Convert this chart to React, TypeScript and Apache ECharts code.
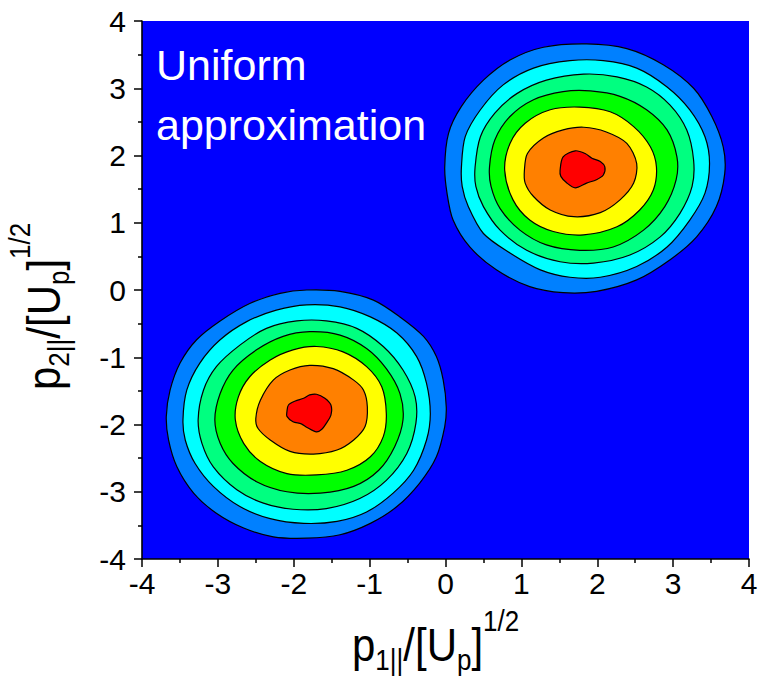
import React, { useEffect, useRef } from 'react';
import * as echarts from 'echarts';

// Contour level colours, outer (lowest) to inner (highest)
const levelColors = ['#0080FF', '#00FFFF', '#00FF80', '#00FF00', '#FFFF00', '#FF8000', '#FF0000'];
const backgroundLevelColor = '#0000FF';

// Axis ranges
const xRange = [-4, 4];
const yRange = [-4, 4];
const tickStep = 1;

// Contour boundaries, in data units [p1, p2]
const upperPeakRings: number[][][] = [
  [[-0.01, 1.83], [0.04, 2.33], [0.21, 2.73], [0.5, 3.12], [0.85, 3.42], [1.29, 3.61], [1.86, 3.66], [2.39, 3.59], [2.87, 3.35], [3.27, 3.0], [3.51, 2.58], [3.66, 2.13], [3.68, 1.73], [3.57, 1.24], [3.31, 0.79], [2.96, 0.45], [2.52, 0.15], [1.99, -0.02], [1.55, -0.04], [1.11, 0.05], [0.67, 0.3], [0.32, 0.64], [0.1, 1.04], [0.02, 1.44]],
  [[0.21, 1.83], [0.26, 2.28], [0.46, 2.68], [0.76, 3.05], [1.16, 3.3], [1.64, 3.41], [2.08, 3.41], [2.52, 3.3], [2.92, 3.02], [3.22, 2.68], [3.42, 2.28], [3.48, 1.88], [3.42, 1.44], [3.22, 1.04], [2.92, 0.64], [2.52, 0.35], [2.04, 0.19], [1.64, 0.19], [1.25, 0.3], [0.85, 0.55], [0.5, 0.84], [0.3, 1.24], [0.22, 1.54]],
  [[0.39, 1.83], [0.46, 2.28], [0.65, 2.63], [0.94, 2.92], [1.33, 3.12], [1.82, 3.21], [2.26, 3.17], [2.65, 3.02], [2.96, 2.75], [3.18, 2.38], [3.27, 1.93], [3.25, 1.54], [3.09, 1.14], [2.83, 0.79], [2.43, 0.52], [1.95, 0.4], [1.51, 0.42], [1.07, 0.59], [0.72, 0.89], [0.5, 1.24], [0.4, 1.54]],
  [[0.58, 1.83], [0.65, 2.23], [0.85, 2.58], [1.16, 2.83], [1.55, 2.95], [1.91, 2.96], [2.3, 2.88], [2.65, 2.68], [2.92, 2.38], [3.05, 1.98], [3.04, 1.64], [2.89, 1.24], [2.61, 0.89], [2.21, 0.64], [1.77, 0.59], [1.33, 0.67], [0.98, 0.89], [0.72, 1.21], [0.6, 1.54]],
  [[0.78, 1.78], [0.85, 2.18], [1.05, 2.48], [1.38, 2.68], [1.77, 2.72], [2.17, 2.65], [2.48, 2.43], [2.7, 2.13], [2.78, 1.83], [2.74, 1.49], [2.56, 1.19], [2.26, 0.94], [1.82, 0.82], [1.42, 0.87], [1.11, 1.04], [0.89, 1.34]],
  [[1.04, 1.78], [1.08, 2.03], [1.29, 2.26], [1.55, 2.38], [1.82, 2.42], [2.12, 2.35], [2.39, 2.18], [2.52, 1.88], [2.48, 1.59], [2.3, 1.34], [2.04, 1.15], [1.69, 1.09], [1.38, 1.19], [1.16, 1.39], [1.05, 1.59]],
  [[1.51, 1.78], [1.55, 1.98], [1.71, 2.07], [1.84, 2.03], [1.93, 1.96], [2.04, 1.91], [2.1, 1.83], [2.08, 1.71], [1.99, 1.64], [1.86, 1.59], [1.71, 1.52], [1.6, 1.59], [1.52, 1.69]],
];

const lowerPeakRings: number[][][] = [
  [[-3.68, -1.88], [-3.63, -1.49], [-3.5, -1.09], [-3.28, -0.74], [-2.97, -0.46], [-2.58, -0.2], [-2.18, -0.05], [-1.83, 0.0], [-1.39, -0.02], [-0.95, -0.15], [-0.6, -0.4], [-0.29, -0.69], [-0.12, -0.99], [-0.03, -1.34], [0.01, -1.74], [-0.01, -2.03], [-0.12, -2.48], [-0.34, -2.87], [-0.64, -3.22], [-0.99, -3.47], [-1.39, -3.64], [-1.83, -3.69], [-2.27, -3.67], [-2.66, -3.54], [-3.02, -3.32], [-3.32, -3.02], [-3.54, -2.63], [-3.65, -2.23]],
  [[-3.46, -1.93], [-3.41, -1.49], [-3.24, -1.09], [-2.97, -0.74], [-2.62, -0.47], [-2.23, -0.3], [-1.83, -0.22], [-1.39, -0.25], [-0.99, -0.4], [-0.64, -0.64], [-0.38, -0.99], [-0.25, -1.39], [-0.2, -1.84], [-0.25, -2.23], [-0.42, -2.68], [-0.69, -3.02], [-1.04, -3.3], [-1.43, -3.44], [-1.87, -3.47], [-2.31, -3.4], [-2.71, -3.22], [-3.06, -2.92], [-3.3, -2.58], [-3.43, -2.23]],
  [[-3.26, -1.93], [-3.19, -1.49], [-3.02, -1.14], [-2.71, -0.82], [-2.36, -0.57], [-1.96, -0.46], [-1.57, -0.46], [-1.17, -0.57], [-0.82, -0.84], [-0.56, -1.19], [-0.4, -1.59], [-0.39, -1.98], [-0.51, -2.43], [-0.78, -2.83], [-1.13, -3.1], [-1.57, -3.25], [-2.01, -3.26], [-2.4, -3.17], [-2.75, -2.97], [-3.06, -2.63], [-3.21, -2.28]],
  [[-3.04, -1.93], [-2.97, -1.54], [-2.8, -1.19], [-2.49, -0.89], [-2.14, -0.69], [-1.79, -0.62], [-1.39, -0.67], [-1.04, -0.87], [-0.78, -1.17], [-0.6, -1.54], [-0.56, -1.93], [-0.67, -2.33], [-0.88, -2.68], [-1.21, -2.92], [-1.65, -3.02], [-2.09, -3.0], [-2.49, -2.85], [-2.8, -2.58], [-2.97, -2.28]],
  [[-2.77, -1.93], [-2.73, -1.59], [-2.58, -1.29], [-2.31, -1.04], [-2.01, -0.89], [-1.7, -0.84], [-1.35, -0.92], [-1.04, -1.14], [-0.84, -1.44], [-0.78, -1.84], [-0.82, -2.18], [-0.99, -2.48], [-1.3, -2.68], [-1.7, -2.75], [-2.09, -2.73], [-2.44, -2.55], [-2.66, -2.28]],
  [[-2.5, -1.91], [-2.44, -1.64], [-2.27, -1.34], [-2.05, -1.19], [-1.79, -1.12], [-1.48, -1.17], [-1.21, -1.34], [-1.08, -1.49], [-1.03, -1.74], [-1.06, -2.03], [-1.21, -2.23], [-1.43, -2.38], [-1.74, -2.44], [-2.05, -2.4], [-2.31, -2.23], [-2.47, -2.06]],
  [[-2.09, -1.81], [-2.07, -1.71], [-1.98, -1.65], [-1.87, -1.61], [-1.79, -1.56], [-1.7, -1.55], [-1.59, -1.61], [-1.51, -1.71], [-1.51, -1.86], [-1.57, -1.98], [-1.63, -2.07], [-1.7, -2.11], [-1.83, -2.04], [-1.9, -1.99], [-2.01, -1.96], [-2.09, -1.88]],
];

const panelLines = ['Uniform', 'approximation'];

// Axis titles: [text, kind] where kind is main / sub / sup
const xTitleParts: [string, string][] = [['p', 'main'], ['1||', 'sub'], ['/[U', 'main'], ['p', 'sub'], [']', 'main'], ['1/2', 'sup']];
const yTitleParts: [string, string][] = [['p', 'main'], ['2||', 'sub'], ['/[U', 'main'], ['p', 'sub'], [']', 'main'], ['1/2', 'sup']];

const FONT = '"Liberation Sans", Arial, Helvetica, sans-serif';
const MAIN_FS = 42;
const SMALL_FS = 26;
const PANEL_FS = 43;

let measureCtx: CanvasRenderingContext2D | null = null;
function textWidth(t: string, fs: number): number {
  if (!measureCtx) {
    const c = document.createElement('canvas');
    measureCtx = c.getContext('2d');
  }
  if (!measureCtx) return t.length * fs * 0.55;
  measureCtx.font = `${fs}px ${FONT}`;
  return measureCtx.measureText(t).width;
}

function buildTitle(parts: [string, string][], x: number, y: number, rotation: number) {
  const children: any[] = [];
  let cx = 0;
  for (const [t, kind] of parts) {
    const fs = kind === 'main' ? MAIN_FS : SMALL_FS;
    const baseline = kind === 'sub' ? 8 : kind === 'sup' ? -27 : 0;
    children.push({
      type: 'text',
      x: cx,
      y: baseline - 0.35 * fs,
      style: {
        text: t,
        font: `${fs}px ${FONT}`,
        fill: '#000',
        textAlign: 'left',
        textVerticalAlign: 'middle',
        verticalAlign: 'middle',
      },
    });
    cx += textWidth(t, fs);
  }
  return { type: 'group', x, y, rotation, scaleX: 1, scaleY: 1.12, children };
}

const allRings = [
  ...upperPeakRings.map((ring, level) => ({ ring, level })),
  ...lowerPeakRings.map((ring, level) => ({ ring, level })),
];

export default function App() {
  const ref = useRef<HTMLDivElement>(null);
  useEffect(() => {
    if (!ref.current) return;
    const chart = echarts.init(ref.current, null, { renderer: 'svg' });
    const axisCommon = {
      type: 'value' as const,
      interval: tickStep,
      splitLine: { show: false },
      axisLine: { show: true, onZero: false, lineStyle: { color: '#000', width: 1.6 } },
      axisTick: { show: true, inside: false, length: 8, lineStyle: { color: '#000', width: 1.5 } },
      minorTick: { show: true, splitNumber: 2, length: 4, lineStyle: { color: '#000', width: 1.5 } },
      minorSplitLine: { show: false },
    };
    chart.setOption({
      animation: false,
      backgroundColor: '#fff',
      grid: {
        left: 142,
        top: 21,
        width: 607,
        height: 538,
        show: true,
        backgroundColor: backgroundLevelColor,
        borderWidth: 0,
        containLabel: false,
        outerBoundsMode: 'none',
      },
      xAxis: {
        ...axisCommon,
        min: xRange[0],
        max: xRange[1],
        axisLabel: { color: '#000', fontSize: 30, fontFamily: FONT, margin: 9 },
      },
      yAxis: {
        ...axisCommon,
        min: yRange[0],
        max: yRange[1],
        axisLabel: { color: '#000', fontSize: 30, fontFamily: FONT, margin: 16 },
      },
      series: [
        {
          type: 'custom',
          coordinateSystem: 'cartesian2d',
          clip: true,
          data: allRings.map((r) => [r.ring[0][0], r.ring[0][1], r.level]),
          encode: { x: 0, y: 1 },
          renderItem: (params: any, api: any) => {
            const item = allRings[params.dataIndex];
            const points = item.ring.map((p) => api.coord(p));
            return {
              type: 'polygon',
              shape: { points, smooth: 0.3 },
              style: { fill: levelColors[item.level], stroke: '#000', lineWidth: 1.2 },
            };
          },
        },
      ],
      graphic: [
        {
          type: 'text',
          x: 156,
          y: 80 - 0.35 * PANEL_FS,
          style: { text: panelLines[0], font: `${PANEL_FS}px ${FONT}`, fill: '#fff', textVerticalAlign: 'middle', verticalAlign: 'middle' },
        },
        {
          type: 'text',
          x: 156,
          y: 140 - 0.35 * PANEL_FS,
          style: { text: panelLines[1], font: `${PANEL_FS}px ${FONT}`, fill: '#fff', textVerticalAlign: 'middle', verticalAlign: 'middle' },
        },
        buildTitle(xTitleParts, 352, 661, 0),
        buildTitle(yTitleParts, 60, 390, Math.PI / 2),
      ],
    });
    return () => chart.dispose();
  }, []);
  return <div ref={ref} style={{ position: 'fixed', left: 0, top: 0, width: 759, height: 682 }} />;
}
